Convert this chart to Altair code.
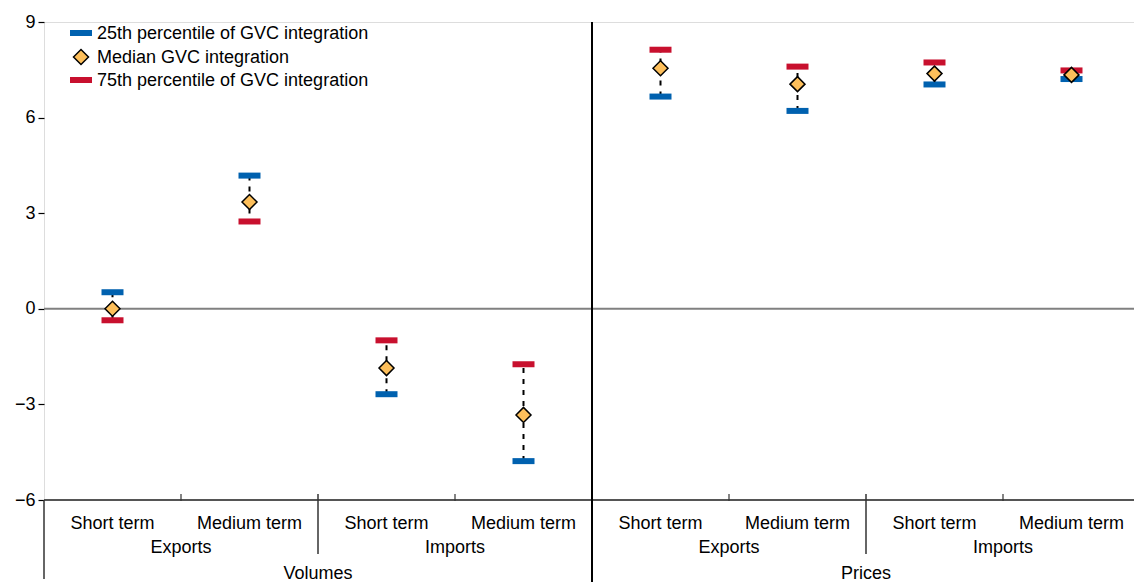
import altair as alt
import pandas as pd

# Horizon labels, grouped by flow and by volumes / prices
terms = ["Short term", "Medium term"] * 4
flows = ["Exports", "Imports", "Exports", "Imports"]
panels = ["Volumes", "Prices"]

# Responses by GVC integration level
p25 = [0.52, 4.18, -2.68, -4.78, 6.66, 6.21, 7.04, 7.21]
median = [0.0, 3.35, -1.86, -3.33, 7.55, 7.05, 7.38, 7.34]
p75 = [-0.36, 2.74, -0.99, -1.74, 8.13, 7.60, 7.73, 7.48]

legend_labels = [
    "25th percentile of GVC integration",
    "Median GVC integration",
    "75th percentile of GVC integration",
]

BLUE = "#0061AF"
RED = "#C8102E"
ORANGE = "#FDBF5B"
FONT = "Liberation Sans, Arial, sans-serif"
FS = 18
W, H = 1090, 478
X_SPAN = 1096  # the last column runs slightly past the right edge

df = pd.DataFrame({
    "pos": [i + 0.5 for i in range(8)],
    "term": terms,
    "p25": p25,
    "median": median,
    "p75": p75,
})
flow_df = pd.DataFrame({"pos": [1, 3, 5, 7], "flow": flows})
panel_df = pd.DataFrame({"pos": [2, 6], "panel": panels})

xs = alt.Scale(domain=[0, 8], range=[0, X_SPAN], nice=False, zero=False)
ys = alt.Scale(domain=[-6, 9], nice=False, zero=False)
yaxis = alt.Axis(values=[-6, -3, 0, 3, 6, 9], domain=False, grid=False,
                 tickSize=6, tickColor="black", tickWidth=1.2,
                 labelFontSize=FS, labelFont=FONT, labelColor="black",
                 labelPadding=3, title=None)


def X(field):
    return alt.X(field, type="quantitative", scale=xs, axis=None)


def Y(field):
    return alt.Y(field, type="quantitative", scale=ys, axis=yaxis)


base = alt.Chart(df)

# reference lines at zero and along the bottom of the panel
hlines = alt.Chart(pd.DataFrame({"v": [0, -6], "c": ["#808080", "#555555"]})).mark_rule(
    strokeWidth=2
).encode(
    x=alt.value(0), x2=alt.value(X_SPAN), y=Y("v"),
    color=alt.Color("c:N", scale=None),
)

spread = base.mark_rule(color="black", strokeWidth=2, strokeDash=[5, 6]).encode(
    x=X("pos"), y=Y("p25"), y2="p75"
)
low = base.mark_tick(orient="horizontal", size=22, thickness=6, color=BLUE, opacity=1).encode(
    x=X("pos"), y=Y("p25")
)
high = base.mark_tick(orient="horizontal", size=22, thickness=6, color=RED, opacity=1).encode(
    x=X("pos"), y=Y("p75")
)
mid = base.mark_point(shape="diamond", filled=True, fill=ORANGE, stroke="black",
                      strokeWidth=1.5, size=225, opacity=1).encode(
    x=X("pos"), y=Y("median")
)

# category separators below the axis
ticks_in = alt.Chart(pd.DataFrame({"pos": [1, 3, 5, 7]})).mark_rule(
    color="#333333", strokeWidth=1.2
).encode(x=X("pos"), y=alt.value(472), y2=alt.value(479))
group_sep = alt.Chart(pd.DataFrame({"pos": [2, 6]})).mark_rule(
    color="#333333", strokeWidth=1.5
).encode(x=X("pos"), y=alt.value(472), y2=alt.value(532))
panel_sep = alt.Chart(pd.DataFrame({"pos": [4]})).mark_rule(
    color="black", strokeWidth=2
).encode(x=X("pos"), y=alt.value(0), y2=alt.value(560))
left_sep = alt.Chart(pd.DataFrame({"pos": [0]})).mark_rule(
    color="#333333", strokeWidth=1.5
).encode(x=X("pos"), y=alt.value(478), y2=alt.value(557))

txt = dict(font=FONT, fontSize=FS, color="black", align="center", baseline="alphabetic")
term_text = base.mark_text(**txt).encode(x=X("pos"), y=alt.value(507), text="term:N")
flow_text = alt.Chart(flow_df).mark_text(**txt).encode(x=X("pos"), y=alt.value(531), text="flow:N")
panel_text = alt.Chart(panel_df).mark_text(**txt).encode(x=X("pos"), y=alt.value(557), text="panel:N")

# legend in the upper-left corner
leg_df = pd.DataFrame({"label": legend_labels, "row": [0, 1, 2]})
leg_rows_y = [11, 35, 58]
leg_blue = alt.Chart(leg_df).transform_filter("datum.row == 0").mark_tick(
    orient="horizontal", size=22, thickness=6, color=BLUE, opacity=1
).encode(x=alt.value(37), y=alt.value(leg_rows_y[0]))
leg_dia = alt.Chart(leg_df).transform_filter("datum.row == 1").mark_point(
    shape="diamond", filled=True, fill=ORANGE, stroke="black", strokeWidth=1.5,
    size=225, opacity=1
).encode(x=alt.value(37), y=alt.value(leg_rows_y[1]))
leg_red = alt.Chart(leg_df).transform_filter("datum.row == 2").mark_tick(
    orient="horizontal", size=22, thickness=6, color=RED, opacity=1
).encode(x=alt.value(37), y=alt.value(leg_rows_y[2]))
leg_texts = [
    alt.Chart(leg_df).transform_filter(f"datum.row == {i}").mark_text(
        font=FONT, fontSize=FS, color="black", align="left", baseline="middle"
    ).encode(x=alt.value(53), y=alt.value(leg_rows_y[i] + 1), text="label:N")
    for i in range(3)
]

chart = alt.layer(
    hlines, spread, low, high, mid,
    ticks_in, group_sep, panel_sep, left_sep,
    term_text, flow_text, panel_text,
    leg_blue, leg_dia, leg_red, *leg_texts,
).properties(
    width=W, height=H,
    autosize=alt.AutoSizeParams(type="none"),
    padding={"left": 44, "top": 22, "right": 0, "bottom": 82},
).configure_view(stroke=None).configure(background="white")

chart.save("out.html", embed_options={"renderer": "svg", "actions": False})
